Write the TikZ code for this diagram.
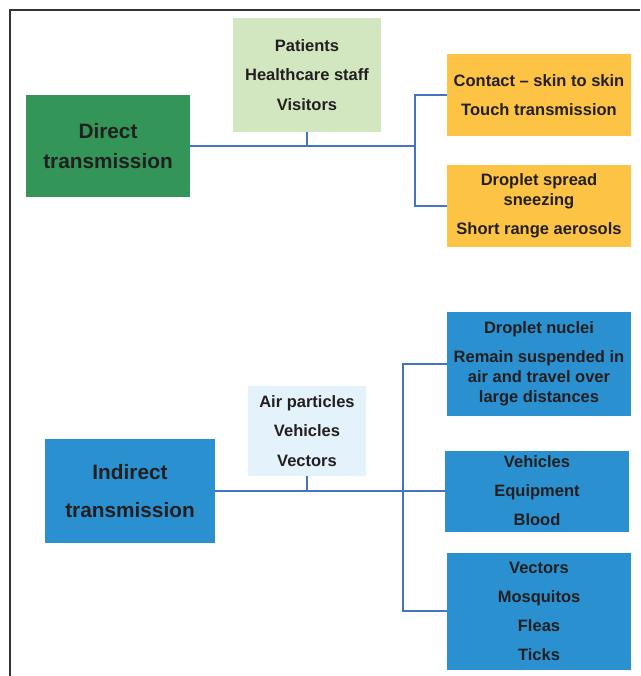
\documentclass[tikz,border=0pt]{standalone}
\usepackage{fontspec}
\setmainfont{Liberation Sans}
\definecolor{dgreen}{HTML}{339558}
\definecolor{lgreen}{HTML}{D2E6C0}
\definecolor{dorange}{HTML}{FDC345}
\definecolor{dblue}{HTML}{2A90D0}
\definecolor{lblue}{HTML}{E4F2FB}
\definecolor{linkblue}{HTML}{4472C4}
\definecolor{ink}{HTML}{231F20}
\tikzset{
	box/.style={inner sep=0pt, align=center, text=ink, font=\fontsize{16.5}{20}\selectfont\bfseries},
	mainbox/.style={box, font=\fontsize{20.8}{30}\selectfont\bfseries},
	link/.style={linkblue, line width=2.2pt},
	frame/.style={black!80, line width=2pt}
}
\begin{document}
\begin{tikzpicture}[x=1pt, y=-1pt]
	        \useasboundingbox (0,0) rectangle (640,676);
	        \draw [frame] (10,676) -- (10,10) -- (640,10);
	        \node [mainbox, fill=dgreen, minimum width=164pt, minimum height=102pt] at (108, 146) (direct) {Direct\\transmission};
	        \node [box, fill=lgreen, minimum width=148pt, minimum height=114pt] at (307, 75) (patients) {Patients\\[9.5pt]Healthcare staff\\[9.5pt]Visitors};
	        \node [box, fill=dorange, minimum width=184pt, minimum height=82pt] at (539, 95) (contact) {Contact – skin to skin\\[9pt]Touch transmission};
	        \node [box, fill=dorange, minimum width=184pt, minimum height=82pt] at (539, 206) (droplet) {Droplet spread\\sneezing\\[9pt]Short range aerosols};
	        \coordinate (dspine) at (415, 146);
	        \draw [link] (direct.east) -- (dspine);
	        \draw [link] (patients.south) -- (patients.south |- dspine);
	        \draw [link] (contact.west) -| (dspine) |- (droplet.west);
	        \node [mainbox, font=\fontsize{20.8}{38}\selectfont\bfseries, fill=dblue, minimum width=170pt, minimum height=104pt] at (130, 491) (indirect) {Indirect\\transmission};
	        \node [box, fill=lblue, minimum width=118pt, minimum height=90pt] at (307, 431) (air) {Air particles\\[9.5pt]Vehicles\\[9.5pt]Vectors};
	        \node [box, fill=dblue, minimum width=184pt, minimum height=104pt] at (539, 364) (nuclei) {Droplet nuclei\\[9pt]Remain suspended in\\air and travel over\\large distances};
	        \node [box, fill=dblue, minimum width=184pt, minimum height=81pt] at (537, 491) (vehicles) {Vehicles\\[9pt]Equipment\\[9pt]Blood};
	        \node [box, fill=dblue, minimum width=184pt, minimum height=117pt] at (539, 611) (vectors) {Vectors\\[9pt]Mosquitos\\[9pt]Fleas\\[9pt]Ticks};
	        \coordinate (ispine) at (403, 491);
	        \draw [link] (indirect.east) -- (vehicles.west);
	        \draw [link] (air.south) -- (air.south |- indirect.east);
	        \draw [link] (nuclei.west) -| (ispine) |- (vectors.west);
\end{tikzpicture}
\end{document}
